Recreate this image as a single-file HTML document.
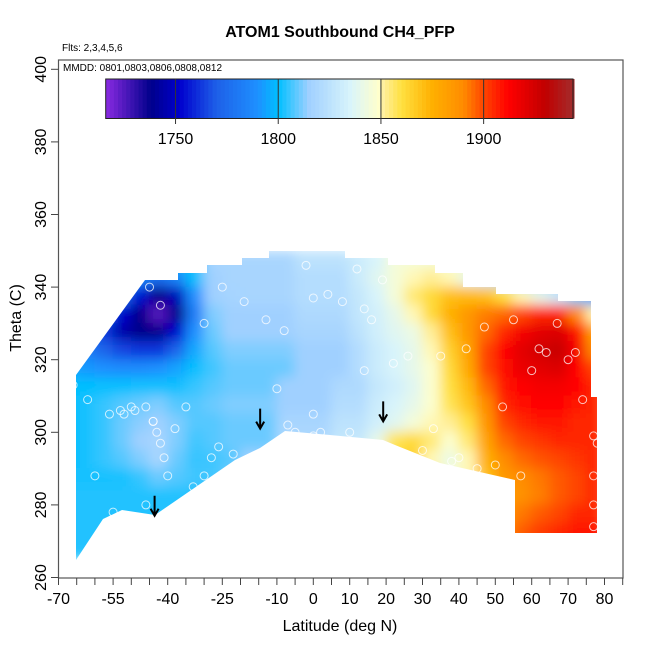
<!DOCTYPE html>
<html><head><meta charset="utf-8"><style>
html,body{margin:0;padding:0;background:#fff;}
svg text{font-family:"Liberation Sans",sans-serif;}
</style></head><body>
<svg id="chart" width="650" height="650" xmlns="http://www.w3.org/2000/svg">
<defs>
<filter id="blur" x="-5%" y="-5%" width="110%" height="110%"><feGaussianBlur stdDeviation="6"/></filter>
<clipPath id="region"><polygon id="regionPoly" points=""/></clipPath>
</defs>
<text x="340" y="37" text-anchor="middle" font-size="16" font-weight="bold">ATOM1 Southbound CH4_PFP</text>
<text x="62" y="51" font-size="10">Flts: 2,3,4,5,6</text>
<text x="63" y="71" font-size="10">MMDD: 0801,0803,0806,0808,0812</text>
<g id="heat-clip" clip-path="url(#region)"><g id="heat" filter="url(#blur)"></g></g>
<g id="points"></g>
<g id="arrows"></g>
<rect x="58.5" y="60" width="564.5" height="518" fill="none" stroke="#555" stroke-width="1.2"/>
<g id="xaxis"></g>
<g id="yaxis"></g>
<text x="340" y="631" text-anchor="middle" font-size="16">Latitude (deg N)</text>
<text transform="translate(21,318) rotate(-90)" text-anchor="middle" font-size="16">Theta (C)</text>
<g id="colorbar"></g>
</svg>
<script>
const latCenters=[-67.5,-62.5,-57.5,-52.5,-47.5,-42.5,-37.5,-32.5,-27.5,-22.5,-17.5,-12.5,-7.5,-2.5,2.5,7.5,12.5,17.5,22.5,27.5,32.5,37.5,42.5,47.5,52.5,57.5,62.5,67.5,72.5,77.5];
const thetaCenters=[347.5,342.5,337.5,332.5,327.5,322.5,317.5,312.5,307.5,302.5,297.5,292.5,287.5,282.5,277.5,272.5,267.5];
const ch4Rows=[
[1800,1800,1800,1800,1800,1800,1800,1800,1818,1818,1818,1818,1818,1825,1825,1825,1830,1835,1845,1845,1845,1845,1850,1850,1840,1820,1800,1790,1780,1770],
[1800,1800,1800,1795,1785,1775,1785,1800,1815,1818,1818,1818,1818,1822,1822,1822,1830,1838,1845,1850,1852,1850,1840,1830,1815,1800,1795,1790,1780,1770],
[1795,1795,1790,1775,1755,1738,1748,1790,1815,1817,1818,1818,1818,1822,1822,1822,1828,1835,1845,1855,1862,1870,1872,1870,1860,1850,1840,1830,1810,1790],
[1792,1785,1772,1752,1738,1725,1738,1782,1812,1815,1815,1815,1815,1820,1820,1820,1827,1833,1840,1850,1862,1875,1885,1892,1895,1900,1905,1905,1890,1850],
[1788,1778,1762,1745,1738,1738,1752,1790,1810,1815,1815,1815,1815,1818,1818,1818,1825,1832,1838,1842,1852,1870,1885,1895,1905,1915,1920,1922,1910,1880],
[1790,1782,1772,1765,1762,1762,1772,1795,1808,1812,1812,1812,1812,1815,1815,1815,1822,1830,1835,1840,1850,1865,1880,1900,1912,1920,1925,1928,1915,1890],
[1795,1792,1790,1788,1788,1790,1794,1800,1806,1810,1810,1810,1810,1815,1815,1815,1822,1830,1835,1840,1848,1862,1878,1900,1910,1918,1920,1922,1912,1900],
[1800,1800,1800,1800,1801,1801,1801,1805,1808,1810,1810,1810,1815,1815,1815,1820,1820,1828,1832,1838,1848,1860,1872,1895,1908,1912,1915,1915,1912,1905],
[1800,1802,1805,1808,1810,1812,1808,1808,1810,1812,1812,1812,1815,1815,1815,1822,1822,1830,1835,1840,1848,1858,1868,1890,1905,1910,1912,1912,1908,1905],
[1800,1802,1805,1810,1813,1815,1812,1808,1808,1810,1810,1810,1818,1818,1818,1825,1825,1832,1838,1845,1850,1852,1860,1885,1900,1905,1908,1908,1905,1905],
[1800,1802,1805,1810,1815,1818,1812,1806,1808,1810,1810,1810,1820,1820,1820,1828,1828,1840,1858,1862,1855,1848,1855,1880,1895,1900,1903,1905,1905,1905],
[1800,1802,1805,1808,1812,1818,1810,1805,1806,1808,1815,1815,1815,1815,1815,1828,1828,1845,1862,1865,1850,1842,1850,1875,1890,1895,1898,1900,1903,1905],
[1802,1802,1802,1802,1805,1810,1808,1806,1806,1810,1810,1810,1810,1810,1810,1810,1810,1850,1865,1865,1855,1845,1850,1870,1885,1890,1893,1897,1900,1905],
[1803,1803,1803,1803,1803,1803,1803,1803,1803,1850,1850,1850,1850,1850,1850,1850,1850,1850,1850,1850,1850,1850,1855,1868,1882,1888,1892,1897,1900,1905],
[1803,1803,1803,1803,1803,1803,1803,1803,1803,1850,1850,1850,1850,1850,1850,1850,1850,1850,1850,1850,1850,1855,1860,1870,1885,1893,1897,1900,1905,1905],
[1803,1803,1803,1803,1803,1803,1803,1803,1803,1850,1850,1850,1850,1850,1850,1850,1850,1850,1850,1850,1850,1855,1860,1875,1890,1897,1902,1905,1908,1908],
[1803,1803,1803,1803,1803,1803,1803,1803,1803,1850,1850,1850,1850,1850,1850,1850,1850,1850,1850,1850,1850,1855,1860,1875,1890,1897,1902,1905,1908,1908]
];
const pointLat=[-42,-45,-40,-30,-25,-19,-13,-8,-2,0,4,8,12,14,16,19,-66,-67,-62,-56,-52,-49,-46,-44,-43,-42,-41,-38,-35,-30,-22,-7,0,2,-53,-50,-44,-40,-33,-28,-60,-55,-46,-35,-26,-10,-5,0,10,14,22,26,35,42,47,55,60,62,64,67,70,72,74,77,78,30,38,45,52,33,40,50,57,77,77,77];
const pointTheta=[335,340,344,330,340,336,331,328,346,337,338,336,345,334,331,342,313,310,309,305,305,306,307,303,300,297,293,301,307,288,294,302,299,300,306,307,303,288,285,293,288,278,280,279,296,312,300,305,300,317,319,321,321,323,329,331,317,323,322,330,320,322,309,299,297,295,292,290,307,301,293,291,288,288,280,274];
const tickLat=[-70,-55,-40,-25,-10,0,10,20,30,40,50,60,70,80];
const tickTheta=[260,280,300,320,340,360,380,400];
const cbTicks=[1750,1800,1850,1900];
const arrowLat=[-43.6,-14.6,19.2];
const arrowTheta=[277,301,303];

const NS="http://www.w3.org/2000/svg";
const xS=lat=>58.5+(lat+70)*3.64;
const yS=th=>577.5-(th-260)*3.63;
const cbX=v=>105.7+(v-1716)*2.054;
const stops=[[1716,[138,43,226]],[1738,[0,0,139]],[1752,[0,0,205]],[1770,[30,96,232]],[1790,[30,144,255]],[1800,[0,191,255]],[1815,[160,208,255]],[1835,[216,244,251]],[1849,[255,255,204]],[1851,[255,240,160]],[1860,[255,224,64]],[1875,[255,176,0]],[1890,[255,140,0]],[1900,[255,69,0]],[1912,[255,0,0]],[1930,[192,0,0]],[1943,[165,42,42]]];
function col(v){
 if(v<=stops[0][0])return `rgb(${stops[0][1]})`;
 for(let i=1;i<stops.length;i++){if(v<=stops[i][0]){const a=stops[i-1],b=stops[i],t=(v-a[0])/(b[0]-a[0]);
  return `rgb(${a[1].map((c,k)=>Math.round(c+(b[1][k]-c)*t)).join(',')})`;}}
 return `rgb(${stops[stops.length-1][1]})`;
}
function mk(tag,attrs,parent){const e=document.createElementNS(NS,tag);for(const k in attrs)e.setAttribute(k,attrs[k]);parent.appendChild(e);return e;}

const outline=[[76,560],[76,375],[145,280],[178,280],[178,273],[207,273],[207,265],[242,265],[242,258],[269,258],[269,251],[345,251],[345,258],[388,258],[388,265],[435,265],[435,273],[463,273],[463,287],[496,287],[496,294],[558,294],[558,301],[591,301],[591,397],[597,397],[597,533],[515,533],[515,480],[440,463],[395,445],[383,440],[330,435],[285,431],[260,448],[235,460],[155,515],[122,510],[103,519]];
document.getElementById('regionPoly').setAttribute('points',outline.map(p=>p.join(',')).join(' '));

const heat=document.getElementById('heat');
thetaCenters.forEach((th,r)=>{latCenters.forEach((lat,c)=>{
 const x0=xS(lat-2.5),x1=xS(lat+2.5),y0=yS(th+2.5),y1=yS(th-2.5);
 const e=mk('rect',{x:x0-0.5,y:y0-0.5,width:x1-x0+1,height:y1-y0+1,fill:col(ch4Rows[r][c])},heat);
 
 
});});

const pts=document.getElementById('points');
pointLat.forEach((lat,i)=>{
 const e=mk('circle',{cx:xS(lat),cy:yS(pointTheta[i]),r:4,fill:'none',stroke:'rgba(255,255,255,0.75)','stroke-width':1},pts);
 
 
});

const arr=document.getElementById('arrows');
arrowLat.forEach((lat,i)=>{
 const x=xS(lat),yt=yS(arrowTheta[i]);
 const e=mk('path',{d:`M${x},${yt-20} L${x},${yt} M${x-4},${yt-7} L${x},${yt} L${x+4},${yt-7}`,stroke:'#000','stroke-width':2,fill:'none'},arr);
 
 
});

const xa=document.getElementById('xaxis');
for(let v=-70;v<=85;v+=5){const e=mk('line',{x1:xS(v),x2:xS(v),y1:578,y2:585,stroke:'#444','stroke-width':1},xa);
 
 }
tickLat.forEach(v=>{const t=mk('text',{x:xS(v),y:604,'text-anchor':'middle','font-size':16},xa);t.textContent=v;
 
 });
const ya=document.getElementById('yaxis');
tickTheta.forEach(v=>{const y=yS(v);
 const l=mk('line',{x1:51,x2:58.5,y1:y,y2:y,stroke:'#444','stroke-width':1},ya);
 
 
 const t=mk('text',{transform:`translate(46,${y}) rotate(-90)`,'text-anchor':'middle','font-size':16},ya);t.textContent=v;
 
 });

const cb=document.getElementById('colorbar');
for(let v=1716;v<1943.5;v+=2){const e=mk('rect',{x:cbX(v),y:79,width:2.054*2+0.5,height:39.5,fill:col(v+1)},cb);
 
 }
const fr=mk('rect',{x:cbX(1716),y:79,width:cbX(1943.5)-cbX(1716),height:39.5,fill:'none',stroke:'#222','stroke-width':1},cb);


cbTicks.forEach(v=>{
 const l=mk('line',{x1:cbX(v),x2:cbX(v),y1:79,y2:124,stroke:'#333','stroke-width':1},cb);
 
 
 const t=mk('text',{x:cbX(v),y:144,'text-anchor':'middle','font-size':16},cb);t.textContent=v;
 
 });
</script>
</body></html>
